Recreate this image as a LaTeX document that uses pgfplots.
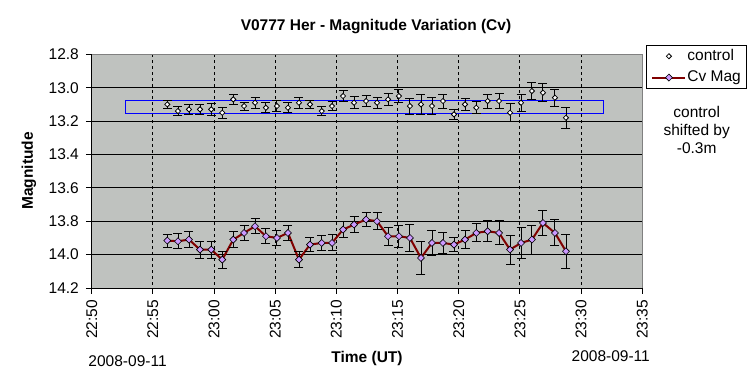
\documentclass[border=0pt]{standalone}
\usepackage{fontspec}
\setmainfont{Liberation Sans}
\usepackage{pgfplots}
\pgfplotsset{compat=1.18}
\usepackage{pgfplotstable}

\definecolor{plotbg}{RGB}{191,194,191}
\definecolor{cvline}{RGB}{128,0,0}
\definecolor{cvfill}{RGB}{204,153,255}
\definecolor{boxgray}{RGB}{128,128,128}

\pgfplotsset{
  ctrl legend/.style={legend image code/.code={\draw[##1] plot coordinates {(16.5bp,0bp)};}},
  cv legend/.style={legend image code/.code={\draw[mark repeat=2, mark phase=2, ##1] plot coordinates {(0bp,0bp) (16.5bp,0bp) (33bp,0bp)};}},
}

% time in minutes after 22:00 UT, magnitude, error
\pgfplotstableread{
t mag err
56.18 13.10 0.024
57.05 13.14 0.028
57.95 13.13 0.032
58.85 13.13 0.032
59.77 13.13 0.034
60.67 13.15 0.032
61.57 13.07 0.031
62.45 13.11 0.024
63.35 13.09 0.032
64.24 13.12 0.030
65.14 13.11 0.032
66.04 13.12 0.030
66.94 13.09 0.034
67.84 13.10 0.025
68.80 13.14 0.029
69.64 13.11 0.028
70.54 13.05 0.031
71.44 13.09 0.036
72.42 13.08 0.035
73.32 13.09 0.033
74.22 13.07 0.036
75.11 13.05 0.041
76.01 13.11 0.048
76.91 13.10 0.060
77.81 13.11 0.052
78.71 13.08 0.042
79.61 13.16 0.032
80.51 13.10 0.035
81.43 13.12 0.036
82.36 13.08 0.042
83.29 13.08 0.043
84.19 13.15 0.055
85.09 13.09 0.050
85.98 13.02 0.050
86.88 13.03 0.054
87.86 13.06 0.050
88.76 13.18 0.064
}\controldata

\pgfplotstableread{
t mag err
56.18 13.916 0.039
57.05 13.92 0.045
57.95 13.91 0.046
58.85 13.97 0.050
59.77 13.97 0.050
60.67 14.03 0.050
61.57 13.91 0.047
62.45 13.87 0.045
63.35 13.83 0.044
64.24 13.89 0.045
65.14 13.90 0.046
66.04 13.87 0.047
66.94 14.03 0.048
67.84 13.94 0.043
68.80 13.93 0.044
69.64 13.93 0.048
70.54 13.85 0.050
71.44 13.82 0.046
72.42 13.79 0.040
73.32 13.80 0.052
74.22 13.89 0.054
75.11 13.89 0.067
76.01 13.90 0.080
76.91 14.02 0.098
77.81 13.93 0.074
78.71 13.93 0.062
79.61 13.94 0.042
80.51 13.91 0.054
81.43 13.87 0.054
82.36 13.86 0.062
83.29 13.87 0.072
84.19 13.97 0.086
85.09 13.93 0.090
85.98 13.91 0.087
86.88 13.81 0.076
87.86 13.87 0.078
88.76 13.98 0.100
}\cvdata

\newcommand{\chartfont}{\fontsize{15.5bp}{18.5bp}\selectfont}

\begin{document}
\chartfont
\begin{tikzpicture}
\begin{axis}[
  at={(0,0)}, anchor=south west,
  scale only axis, width=550.6bp, height=233.7bp,
  xmin=50, xmax=95, ymin=12.8, ymax=14.2, y dir=reverse,
  axis background/.style={fill=plotbg},
  axis line style={draw=boxgray, line width=0.8bp},
  xtick={55,60,65,70,75,80,85,90},
  xticklabels={22:55,23:00,23:05,23:10,23:15,23:20,23:25,23:30},
  extra x ticks={50,95},
  extra x tick labels={22:50,23:35},
  ytick={13.0,13.2,13.4,13.6,13.8,14.0},
  extra y ticks={12.8,14.2},
  extra tick style={grid=none},
  xtick pos=left, ytick pos=left,
  tick align=outside,
  major tick length=5.7bp,
  tick style={black, line width=0.9bp},
  grid=major,
  x grid style={black, dash pattern=on 3bp off 3bp, line width=0.9bp},
  y grid style={black, line width=0.9bp},
  /pgf/number format/assume math mode=true,
  tick label style={font=\chartfont},
  yticklabel style={anchor=east, inner sep=0pt, /pgf/number format/.cd, fixed, fixed zerofill, precision=1},
  xticklabel style={rotate=90, anchor=east, inner sep=0pt},
  xticklabel shift=6bp,
  yticklabel shift=7bp,
  legend style={at={(1.0067,1.0398)}, anchor=north west, draw=black, line width=0.9bp,
    fill=white, font=\chartfont, cells={anchor=west}, inner xsep=5bp, inner ysep=3bp,
    row sep=6bp, nodes={inner sep=1bp}},
  extra description/.code={
    \draw[black, line width=1bp] (axis description cs:0,0) -- (axis description cs:0,1);
    \draw[black, line width=1bp] (axis description cs:0,0) -- (axis description cs:1,0);
  },
]
\addplot[blue, line width=1bp, forget plot] coordinates {
  (52.79,13.075) (91.8,13.075) (91.8,13.153) (52.79,13.153) (52.79,13.075)};

\addplot[only marks, mark=diamond*, mark size=2.6bp,
  mark options={fill=white, draw=black, line width=0.8bp, xscale=1.33},
  ctrl legend,
  error bars/.cd, y dir=both, y explicit,
  error bar style={black, line width=0.9bp},
  error mark options={rotate=90, black, mark size=4.5bp, line width=0.9bp}]
  table[x=t, y=mag, y error=err] {\controldata};
\addlegendentry{control}

\addplot[cvline, line width=2bp, mark=diamond*, mark size=3.5bp,
  mark options={fill=cvfill, draw=black, line width=0.6bp, xscale=1.33},
  cv legend,
  error bars/.cd, y dir=both, y explicit,
  error bar style={black, line width=0.9bp},
  error mark options={rotate=90, black, mark size=4.5bp, line width=0.9bp}]
  table[x=t, y=mag, y error=err] {\cvdata};
\addlegendentry{Cv Mag}
\end{axis}

\node[anchor=base, font=\chartfont\bfseries] at (284.3bp,257.3bp) {V0777 Her - Magnitude Variation (Cv)};
\node[anchor=center, rotate=90, inner sep=0pt, font=\chartfont\bfseries] at (-62.7bp,117bp) {Magnitude};
\node[anchor=base, font=\chartfont\bfseries] at (275.3bp,-74.3bp) {Time (UT)};
\node[anchor=base west, inner sep=0pt, font=\chartfont] at (-3.4bp,-78bp) {2008-09-11};
\node[anchor=base east, inner sep=0pt, font=\chartfont] at (558.3bp,-73bp) {2008-09-11};
\node[anchor=base, inner sep=0pt, font=\chartfont] at (605bp,170.3bp) {control};
\node[anchor=base, inner sep=0pt, font=\chartfont] at (605bp,152.5bp) {shifted by};
\node[anchor=base, inner sep=0pt, font=\chartfont] at (605bp,134bp) {-0.3m};

\pgfresetboundingbox
\path[use as bounding box] (-91.7bp,-94bp) rectangle (659.3bp,288bp);
\end{tikzpicture}
\end{document}
